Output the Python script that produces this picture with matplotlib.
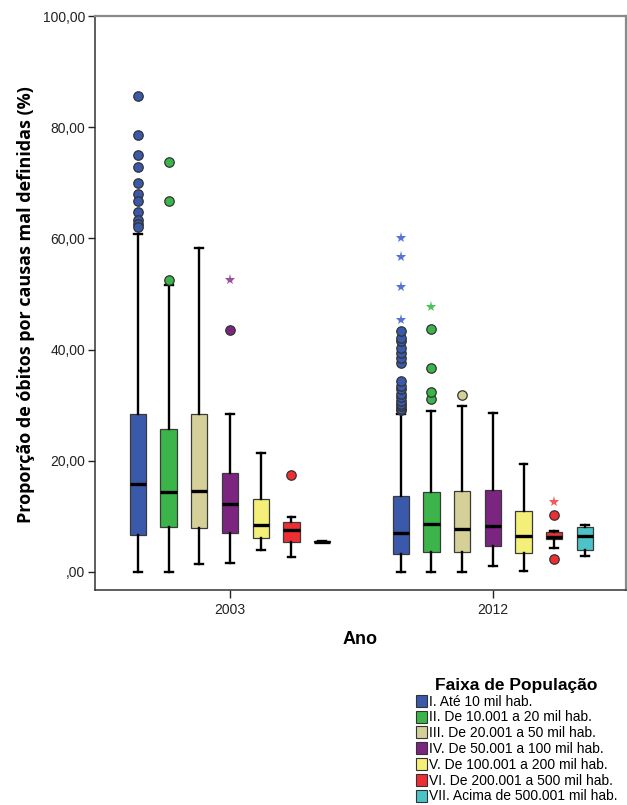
import matplotlib
matplotlib.use("Agg")
import matplotlib.pyplot as plt
from matplotlib.patches import Patch
from matplotlib.ticker import FuncFormatter

plt.rcParams['font.family'] = ['Liberation Sans', 'DejaVu Sans']

years = ["2003", "2012"]
faixas = [
    "I. Até 10 mil hab.",
    "II. De 10.001 a 20 mil hab.",
    "III. De 20.001 a 50 mil hab.",
    "IV. De 50.001 a 100 mil hab.",
    "V. De 100.001 a 200 mil hab.",
    "VI. De 200.001 a 500 mil hab.",
    "VII. Acima de 500.001 mil hab.",
]
colors = ["#3B59AA", "#3BB54A", "#D5D098", "#7C2580", "#F4EF78", "#EE2E33", "#4CC3C6"]
star_colors = ["#5674D2", "#4CC35A", "#D5D098", "#9A4FA0", "#F4EF78", "#F45A5A", "#4CC3C6"]

# five-number summaries per year (order: faixas I..VII)
whislo_2003 = [0.0, 0.0, 1.4, 1.7, 4.0, 2.75, 5.35]
q1_2003 = [6.65, 8.15, 7.85, 7.1, 6.05, 5.35, 5.35]
med_2003 = [15.8, 14.4, 14.6, 12.2, 8.4, 7.55, 5.48]
q3_2003 = [28.5, 25.8, 28.5, 17.75, 13.1, 9.05, 5.6]
whishi_2003 = [60.8, 51.6, 58.2, 28.4, 21.35, 9.95, 5.6]

whislo_2012 = [0.0, 0.0, 0.0, 1.15, 0.25, 4.25, 2.95]
q1_2012 = [3.2, 3.65, 3.65, 4.75, 3.35, 5.9, 3.95]
med_2012 = [7.1, 8.6, 7.7, 8.2, 6.4, 6.35, 6.5]
q3_2012 = [13.6, 14.3, 14.6, 14.8, 11.0, 7.25, 8.15]
whishi_2012 = [28.5, 29.0, 29.85, 28.65, 19.4, 7.45, 8.45]

# outliers (circles) and extremes (stars)
out_2003 = [
    [85.7, 78.6, 75.0, 72.8, 70.0, 68.0, 66.7, 64.7, 63.3, 62.5, 62.0],
    [73.8, 66.7, 52.5],
    [],
    [43.5],
    [],
    [17.5],
    [],
]
ext_2003 = [[], [], [], [52.6], [], [], []]

out_2012 = [
    [29.1, 29.4, 29.9, 30.3, 30.8, 31.5, 32.1, 33.0, 33.5, 34.4,
     37.5, 38.5, 39.3, 40.3, 41.5, 42.0, 43.3],
    [31.05, 32.3, 36.6, 43.7],
    [31.8],
    [],
    [],
    [2.35, 10.25],
    [],
]
ext_2012 = [[60.0, 56.7, 51.2, 45.4], [47.6], [], [], [], [12.5], []]

fig = plt.figure(figsize=(6.27, 8.05), dpi=100)
ax = fig.add_axes([95 / 627, 1 - 589.5 / 805, 531 / 627, 573.5 / 805])

step = 0.1169
box_w = 0.062
cap_w = 0.03

groups = [
    (whislo_2003, q1_2003, med_2003, q3_2003, whishi_2003, out_2003, ext_2003),
    (whislo_2012, q1_2012, med_2012, q3_2012, whishi_2012, out_2012, ext_2012),
]

for gi, (wl, q1, md, q3, wh, outs, exts) in enumerate(groups):
    stats = []
    positions = []
    for k in range(len(faixas)):
        stats.append(dict(whislo=wl[k], q1=q1[k], med=md[k], q3=q3[k],
                          whishi=wh[k], fliers=[]))
        positions.append(gi + (k - 3) * step)
    bp = ax.bxp(stats, positions=positions, widths=box_w, capwidths=cap_w,
                patch_artist=True, showfliers=False, manage_ticks=False,
                boxprops=dict(edgecolor="#3a3a3a", linewidth=0.9),
                whiskerprops=dict(color="black", linewidth=1.7),
                capprops=dict(color="black", linewidth=1.7),
                medianprops=dict(color="black", linewidth=2.4))
    for patch, c in zip(bp["boxes"], colors):
        patch.set_facecolor(c)
    for k in range(len(faixas)):
        x = positions[k]
        if outs[k]:
            ax.plot([x] * len(outs[k]), outs[k], linestyle="none", marker="o",
                    markersize=6.8, markerfacecolor=colors[k],
                    markeredgecolor="#333333", markeredgewidth=0.9, zorder=4)
        if exts[k]:
            ax.plot([x] * len(exts[k]), exts[k], linestyle="none", marker="*",
                    markersize=8, color=star_colors[k], markeredgewidth=0,
                    zorder=4)

ax.set_xlim(-0.514, 1.507)
ax.set_ylim(-3.15, 100)
ax.set_xticks([0, 1])
ax.set_xticklabels(years, fontsize=10, color="#222222")
ax.set_yticks([0, 20, 40, 60, 80, 100])
ax.yaxis.set_major_formatter(FuncFormatter(
    lambda v, p: ",00" if v == 0 else f"{v:.2f}".replace(".", ",")))
ax.tick_params(axis="y", labelsize=10, length=5, width=1, colors="#222222", pad=2)
ax.tick_params(axis="x", length=6, width=1, colors="#222222", pad=4)

for side in ("left", "bottom"):
    ax.spines[side].set_color("#333333")
    ax.spines[side].set_linewidth(1.1)
for side in ("top", "right"):
    ax.spines[side].set_color("#8a8a8a")
    ax.spines[side].set_linewidth(1.6)

ax.set_xlabel("Ano", fontsize=13, fontweight="bold")
ax.xaxis.set_label_coords((360 - 95) / 531, -(631 - 589.5) / 573.5)
ax.set_ylabel("Proporção de óbitos por causas mal definidas (%)", fontsize=13,
              fontweight="bold", family=["Open Sans", "DejaVu Sans"])
ax.yaxis.set_label_coords(-(95 - 35) / 531, (589.5 - 305) / 573.5)

handles = [Patch(facecolor=c, edgecolor="#333333", linewidth=0.8) for c in colors]
leg = fig.legend(handles, faixas, loc="upper left", bbox_to_anchor=(406 / 627, 1 - 668 / 805),
                 frameon=False, fontsize=10, handlelength=0.8, handleheight=0.95,
                 handletextpad=0.15, labelspacing=0.13, borderpad=0.2,
                 title="Faixa de População",
                 title_fontproperties={"weight": "bold", "size": 12.5})

fig.savefig("out.png", dpi=100)
